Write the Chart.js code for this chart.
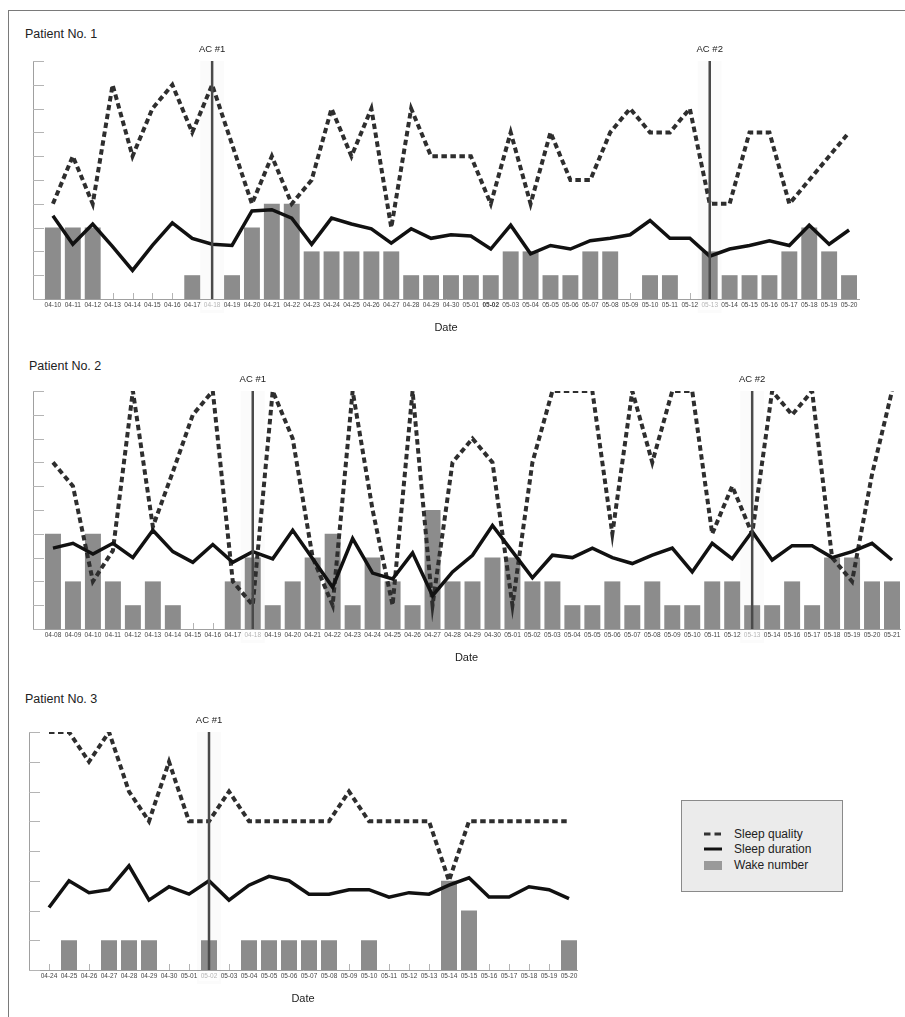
<!DOCTYPE html>
<html>
<head>
<meta charset="utf-8">
<script src="https://cdn.jsdelivr.net/npm/chart.js@4.4.1/dist/chart.umd.min.js"></script>
<style>
  body { margin: 0; background: #fff; font-family: 'Liberation Sans', Arial, sans-serif; }
  #page { position: relative; width: 905px; height: 1017px; overflow: hidden; }
  #frame { position: absolute; left: 8px; top: 10px; width: 920px; height: 1030px;
           border-top: 1px solid #7a7a7a; border-left: 1px solid #7a7a7a; }
  canvas { position: absolute; left: 0; }
  .title { position: absolute; font-size: 12.5px; color: #222; white-space: nowrap; }
  #legend { position: absolute; left: 681px; top: 800px; width: 162px; height: 92px; box-sizing: border-box;
            background: #ebebeb; border: 1px solid #8a8a8a; }
  #legend .row { position: absolute; left: 22px; height: 14px; font-size: 12px; color: #222; white-space: nowrap; }
  #legend svg { position: absolute; left: 0; top: 2px; }
  #legend span { position: absolute; left: 30px; top: 0; line-height: 14px; }
</style>
</head>
<body>
<div id="page">
  <div id="frame"></div>

  <div class="title" style="left:25px; top:27px;">Patient No. 1</div>
  <canvas id="p1" width="905" height="300" style="top:40px;"></canvas>

  <div class="title" style="left:29px; top:359px;">Patient No. 2</div>
  <canvas id="p2" width="905" height="300" style="top:370px;"></canvas>

  <div class="title" style="left:25px; top:692px;">Patient No. 3</div>
  <canvas id="p3" width="905" height="300" style="top:711px;"></canvas>

  <div id="legend">
    <div class="row" style="top:26px;">
      <svg width="20" height="10"><line x1="0" y1="5" x2="20" y2="5" stroke="#333" stroke-width="3" stroke-dasharray="6.5,4"/></svg>
      <span>Sleep quality</span>
    </div>
    <div class="row" style="top:41px;">
      <svg width="20" height="10"><line x1="0" y1="5" x2="18" y2="5" stroke="#111" stroke-width="3"/></svg>
      <span>Sleep duration</span>
    </div>
    <div class="row" style="top:57px;">
      <svg width="20" height="10"><rect x="0" y="1" width="18" height="9" fill="#9a9a9a"/></svg>
      <span>Wake number</span>
    </div>
  </div>
</div>

<script>
// ---- Patient No. 1 ----
const dates1 = ['04-10','04-11','04-12','04-13','04-14','04-15','04-16','04-17','04-18','04-19','04-20',
  '04-21','04-22','04-23','04-24','04-25','04-26','04-27','04-28','04-29','04-30',
  '05-01','05-02','05-03','05-04','05-05','05-06','05-07','05-08','05-09','05-10',
  '05-11','05-12','05-13','05-14','05-15','05-16','05-17','05-18','05-19','05-20'];
const quality1 = [4, 6, 4, 9, 6, 8, 9, 7, 9, 6.5, 4, 6, 4, 5, 8, 6, 8, 3, 8, 6, 6,
  6, 4, 7, 4, 7, 5, 5, 7, 8, 7, 7, 8, 4, 4, 7, 7, 4, 5, 6, 7];
const duration1 = [3.5, 2.3, 3.15, 2.2, 1.2, 2.25, 3.2, 2.55, 2.3, 2.25, 3.7, 3.75, 3.4, 2.3, 3.4, 3.15, 2.95, 2.35, 2.95, 2.55, 2.7,
  2.65, 2.1, 3.1, 1.9, 2.25, 2.1, 2.45, 2.55, 2.7, 3.3, 2.55, 2.55, 1.8, 2.1, 2.25, 2.45, 2.25, 3.1, 2.3, 2.9];
const wake1 = [3, 3, 3, 0, 0, 0, 0, 1, 0, 1, 3, 4, 4, 2, 2, 2, 2, 2, 1, 1, 1,
  1, 1, 2, 2, 1, 1, 2, 2, 0, 1, 1, 0, 2, 1, 1, 1, 2, 3, 2, 1];
const ac1 = ['04-18', '05-13'];
const bold1 = ['05-02'];

// ---- Patient No. 2 ----
const dates2 = ['04-08','04-09','04-10','04-11','04-12','04-13','04-14','04-15','04-16','04-17','04-18',
  '04-19','04-20','04-21','04-22','04-23','04-24','04-25','04-26','04-27','04-28','04-29','04-30',
  '05-01','05-02','05-03','05-04','05-05','05-06','05-07','05-08','05-09','05-10','05-11','05-12',
  '05-13','05-14','05-16','05-17','05-18','05-19','05-20','05-21'];
const quality2 = [7, 6, 2, 3.3, 10, 4.3, 6.6, 9, 10, 2, 1, 10, 8, 3, 1, 10, 5, 1, 10, 1, 7, 8, 7,
  1, 7, 10, 10, 10, 4, 10, 7, 10, 10, 4, 6, 4, 10, 9, 10, 3, 2, 6.5, 10];
const duration2 = [3.4, 3.6, 3.15, 3.6, 3.0, 4.15, 3.25, 2.8, 3.55, 2.8, 3.25, 2.95, 4.15, 2.95, 1.75, 3.8, 2.35, 2.1, 3.2, 1.4, 2.4, 3.1, 4.35,
  3.25, 2.15, 3.1, 3.0, 3.4, 3.0, 2.75, 3.1, 3.4, 2.4, 3.6, 2.95, 4.1, 2.9, 3.5, 3.5, 3.0, 3.25, 3.6, 2.9];
const wake2 = [4, 2, 4, 2, 1, 2, 1, 0, 0, 2, 3, 1, 2, 3, 4, 1, 3, 2, 1, 5, 2, 2, 3,
  3, 2, 2, 1, 1, 2, 1, 2, 1, 1, 2, 2, 1, 1, 2, 1, 3, 3, 2, 2];
const ac2 = ['04-18', '05-13'];

// ---- Patient No. 3 ----
const dates3 = ['04-24','04-25','04-26','04-27','04-28','04-29','04-30',
  '05-01','05-02','05-03','05-04','05-05','05-06','05-07','05-08','05-09','05-10',
  '05-11','05-12','05-13','05-14','05-15','05-16','05-17','05-18','05-19','05-20'];
const quality3 = [8, 8, 7, 8, 6, 5, 7, 5, 5, 6, 5, 5, 5, 5, 5, 6, 5, 5, 5, 5, 3, 5, 5, 5, 5, 5, 5];
const duration3 = [2.1, 3.0, 2.6, 2.7, 3.5, 2.35, 2.8, 2.55, 3.0, 2.35, 2.85, 3.15, 3.0, 2.55, 2.55, 2.7, 2.7,
  2.45, 2.6, 2.55, 2.85, 3.1, 2.45, 2.45, 2.8, 2.7, 2.4];
const wake3 = [0, 1, 0, 1, 1, 1, 0, 0, 1, 0, 1, 1, 1, 1, 1, 0, 1, 0, 0, 0, 3, 2, 0, 0, 0, 0, 1];
const ac3 = ['05-02'];

Chart.defaults.font.family = "'Liberation Sans', Arial, sans-serif";

// inner tick marks, AC markers
const acMarks = {
  id: 'acMarks',
  beforeDatasetsDraw(chart, args, opts) {
    const { ctx, chartArea, scales: { x, y } } = chart;
    ctx.save();
    ctx.strokeStyle = '#b4b4b4';
    ctx.lineWidth = 1;
    for (let v = 0; v <= y.max; v++) {
      const py = Math.round(y.getPixelForValue(v)) + 0.5;
      ctx.beginPath();
      ctx.moveTo(chartArea.left, py);
      ctx.lineTo(chartArea.left + 11, py);
      ctx.stroke();
    }
    x.ticks.forEach(t => {
      const px = Math.round(x.getPixelForValue(t.value)) + 0.5;
      ctx.beginPath();
      ctx.moveTo(px, chartArea.bottom);
      ctx.lineTo(px, chartArea.bottom - 6);
      ctx.stroke();
    });
    // faint band behind each AC line
    ctx.fillStyle = 'rgba(0,0,0,0.016)';
    opts.dates.forEach(d => {
      const px = x.getPixelForValue(opts.labels.indexOf(d));
      ctx.fillRect(px - 12, chartArea.top, 24, chartArea.bottom - chartArea.top + 14);
    });
    ctx.restore();
  },
  afterDatasetsDraw(chart, args, opts) {
    const { ctx, chartArea, scales: { x, y } } = chart;
    ctx.save();
    opts.dates.forEach((d, k) => {
      const px = x.getPixelForValue(opts.labels.indexOf(d));
      const top = y.getPixelForValue(y.max);
      ctx.strokeStyle = '#4a4a4a';
      ctx.lineWidth = 2.5;
      ctx.beginPath();
      ctx.moveTo(px, top);
      ctx.lineTo(px, chartArea.bottom);
      ctx.stroke();
      ctx.fillStyle = '#222';
      ctx.font = "9.5px 'Liberation Sans', Arial, sans-serif";
      ctx.textAlign = 'center';
      ctx.textBaseline = 'middle';
      ctx.fillText('AC #' + (k + 1), px, top - 12);
    });
    ctx.restore();
  },
  afterDraw(chart, args, opts) {
    // AC date label looks washed out in the original
    const { ctx, chartArea, scales: { x } } = chart;
    ctx.save();
    ctx.fillStyle = 'rgba(255,255,255,0.6)';
    opts.dates.forEach(d => {
      const px = x.getPixelForValue(opts.labels.indexOf(d));
      ctx.fillRect(px - 10, chartArea.bottom + 1, 20, 10);
    });
    ctx.restore();
  }
};

function drawPanel(id, labels, quality, duration, wake, acDates, yMax, xPad, pad, boldDates) {
  const pts = arr => arr.map((v, i) => ({ x: i, y: v }));
  const bold = boldDates || [];
  return new Chart(document.getElementById(id), {
    type: 'bar',
    data: {
      datasets: [
        {
          type: 'line', label: 'Sleep duration', data: pts(duration),
          borderColor: '#111', borderWidth: 3.5, pointRadius: 0, tension: 0, order: 0
        },
        {
          type: 'line', label: 'Sleep quality', data: pts(quality),
          borderColor: '#2e2e2e', borderWidth: 4, borderDash: [5.5, 3.5], pointRadius: 0, tension: 0, order: 1
        },
        {
          type: 'bar', label: 'Wake number', data: pts(wake),
          backgroundColor: '#8c8c8c', borderWidth: 0, categoryPercentage: 1, barPercentage: 0.8, order: 2
        }
      ]
    },
    options: {
      responsive: false,
      animation: false,
      devicePixelRatio: 1,
      layout: { padding: pad },
      plugins: {
        legend: { display: false },
        tooltip: { enabled: false },
        acMarks: { dates: acDates, labels: labels }
      },
      scales: {
        x: {
          type: 'linear',
          offset: false,
          bounds: 'data',
          min: -1,
          max: labels.length - 1 + xPad,
          afterBuildTicks: scale => { scale.ticks = labels.map((_, i) => ({ value: i })); },
          grid: { display: false, drawTicks: false },
          border: { display: true, color: '#a0a0a0', width: 1 },
          ticks: {
            autoSkip: false, maxRotation: 0, minRotation: 0, padding: 2,
            color: '#444',
            font: ctx => ({ size: 6.5, weight: bold.includes(labels[ctx.tick && ctx.tick.value]) ? 'bold' : 'normal' }),
            callback: v => labels[v]
          },
          title: { display: true, text: 'Date', color: '#222', font: { size: 11 }, padding: { top: 10.5, bottom: 2 } }
        },
        y: {
          min: 0,
          max: yMax,
          ticks: { display: false, stepSize: 1 },
          grid: { display: false, drawTicks: false },
          border: { display: true, color: '#a0a0a0', width: 1 }
        }
      }
    },
    plugins: [acMarks]
  });
}

drawPanel('p1', dates1, quality1, duration1, wake1, ac1, 10, 0.5, { left: 33, right: 46, top: 21, bottom: 3.5 }, bold1);
drawPanel('p2', dates2, quality2, duration2, wake2, ac2, 10, 0.4, { left: 33, right: 5, top: 21, bottom: 3.5 });
drawPanel('p3', dates3, quality3, duration3, wake3, ac3, 8, 0.4, { left: 29, right: 328, top: 21, bottom: 3.5 });
</script>
</body>
</html>
